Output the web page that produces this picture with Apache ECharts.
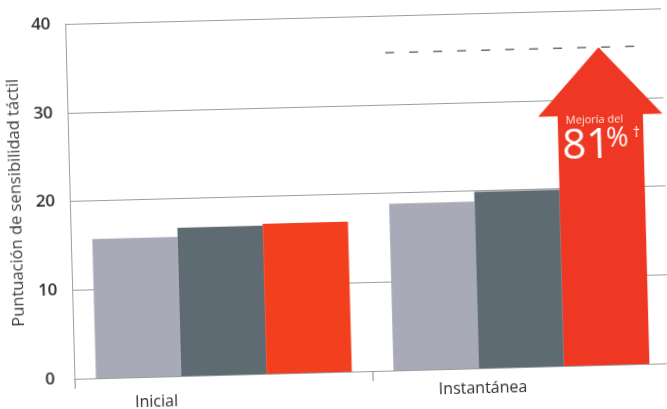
<!DOCTYPE html>
<html>
<head>
<meta charset="utf-8">
<script src="https://cdn.jsdelivr.net/npm/echarts@6/dist/echarts.min.js"></script>
<style>
  html, body { margin: 0; padding: 0; background: #ffffff; overflow: hidden; }
  #chart { width: 667px; height: 409px; transform: rotate(-1.5deg); transform-origin: 50% 50%; }
</style>
</head>
<body>
<div id="chart"></div>
<script>
// ---- data ----
const categories = ['Inicial', 'Instantánea'];
const lightGray = [15.7, 18.8];
const darkGray = [16.7, 19.9];
const red = [16.9, 35.8];
const yTicks = [0, 10, 20, 30, 40];
const yAxisTitle = 'Puntuación de sensibilidad táctil';
const arrowIndex = 1;
const improvementCaption = 'Mejoría del';
const improvementNumber = '81';
const improvementUnit = '%';
const improvementMark = '†';

// ---- style ----
const FONT = '"Open Sans", "Noto Sans", sans-serif';
const C_LIGHT = '#a9aab7';
const C_DARK = '#5f6b73';
const C_RED = '#f2401f';
const C_ARROW = '#ee3823';
const C_GRID = '#9d9d9d';
const CAT_GAP = 0.14;

const chart = echarts.init(document.getElementById('chart'), null, { renderer: 'canvas' });

function renderArrow(params, api) {
  const i = api.value(0);
  const v = api.value(1);
  const tip = api.coord([i, v]);
  const base = api.coord([i, 0]);
  const band = api.size([1, 0])[0];
  const bw = band * (1 - CAT_GAP) / 3;
  const cx = tip[0];
  const l = cx + bw / 2;
  const r = cx + 1.5 * bw;
  const headH = 68;
  const over = 19.5;
  const sh = tip[1] + headH;
  return {
    type: 'group',
    children: [
      {
        type: 'line',
        shape: { x1: cx - 1.5 * bw, y1: tip[1], x2: r + 4, y2: tip[1] },
        style: { stroke: '#6f6f6f', lineWidth: 1.4, lineDash: [9, 15] }
      },
      {
        type: 'polygon',
        shape: { points: [[l, base[1]], [l, sh], [l - over, sh], [(l + r) / 2, tip[1]], [r + over, sh], [r, sh], [r, base[1]]] },
        style: { fill: C_ARROW }
      },
      {
        type: 'text',
        x: l + 8, y: sh + 5,
        style: { text: improvementCaption, fill: '#fde8e2', font: '11px ' + FONT, verticalAlign: 'middle', align: 'left' }
      },
      {
        type: 'text',
        x: l + 4, y: sh + 31,
        style: { text: improvementNumber, fill: '#ffffff', font: '42px ' + FONT, verticalAlign: 'middle', align: 'left' }
      },
      {
        type: 'text',
        x: l + 48, y: sh + 24,
        style: { text: improvementUnit, fill: '#ffffff', font: '27px ' + FONT, verticalAlign: 'middle', align: 'left' }
      },
      {
        type: 'text',
        x: l + 75, y: sh + 19,
        style: { text: improvementMark, fill: '#ffffff', font: '14px ' + FONT, verticalAlign: 'middle', align: 'left' }
      }
    ]
  };
}

const option = {
  animation: false,
  backgroundColor: '#ffffff',
  grid: { left: 68, right: 1, top: 17, bottom: 37, containLabel: false },
  xAxis: {
    type: 'category',
    data: categories,
    axisLine: { show: true, lineStyle: { color: C_GRID, width: 1 } },
    axisTick: { show: true, length: 10, lineStyle: { color: '#888' } },
    axisLabel: {
      margin: 12,
      color: '#333',
      fontFamily: FONT,
      fontSize: 16,
      formatter: (v, idx) => '{c' + idx + '|' + v + '}',
      rich: {
        c0: { fontFamily: FONT, fontSize: 16, color: '#2e2e2e', padding: [5, 136, 0, 0] },
        c1: { fontFamily: FONT, fontSize: 16, color: '#2e2e2e', padding: [0, 78, 0, 0] }
      }
    }
  },
  yAxis: {
    type: 'value',
    min: yTicks[0],
    max: yTicks[yTicks.length - 1],
    interval: yTicks[1] - yTicks[0],
    name: yAxisTitle,
    nameLocation: 'middle',
    nameGap: 35,
    nameTextStyle: { fontFamily: FONT, fontSize: 16.5, color: '#3a3a3a' },
    axisLine: { show: true, lineStyle: { color: C_GRID, width: 1 } },
    axisTick: { show: false },
    axisLabel: { margin: 25, align: 'center', color: '#2e2e2e', fontFamily: FONT, fontSize: 17, fontWeight: 600 },
    splitLine: { show: true, lineStyle: { color: C_GRID, width: 1 } }
  },
  series: [
    { type: 'bar', name: 'A', data: lightGray, itemStyle: { color: C_LIGHT }, barGap: '0%', barCategoryGap: (CAT_GAP * 100) + '%' },
    { type: 'bar', name: 'B', data: darkGray, itemStyle: { color: C_DARK }, barGap: '0%', barCategoryGap: (CAT_GAP * 100) + '%' },
    {
      type: 'bar', name: 'C',
      data: red.map((v, i) => i === arrowIndex ? { value: v, itemStyle: { color: 'rgba(0,0,0,0)' } } : v),
      itemStyle: { color: C_RED }, barGap: '0%', barCategoryGap: (CAT_GAP * 100) + '%'
    },
    {
      type: 'custom',
      name: 'C-arrow',
      renderItem: renderArrow,
      data: red.map((v, i) => [i, v]).filter(d => d[0] === arrowIndex),
      z: 3
    }
  ]
};
chart.setOption(option);
</script>
</body>
</html>
